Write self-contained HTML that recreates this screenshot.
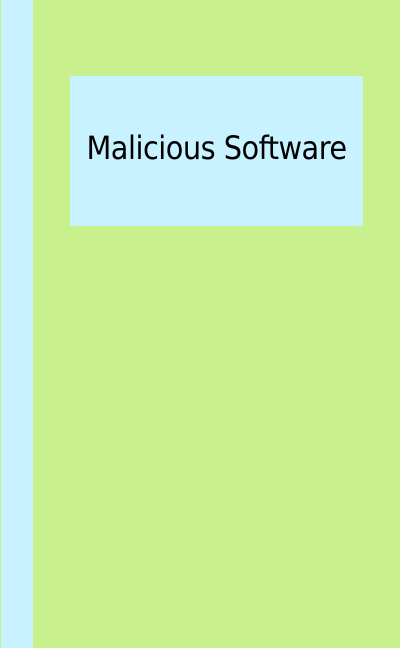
<!DOCTYPE html>
<html><head><style>
html,body{margin:0;padding:0;width:400px;height:648px;overflow:hidden;background:#c8f08c;}
.strip{position:absolute;left:1px;top:0;width:32px;height:648px;background:#c8f2ff;}
.box{position:absolute;left:70px;top:76px;width:293px;height:150px;background:#c8f2ff;}
.t{position:absolute;left:70px;top:126px;width:293px;text-align:center;font-family:"DejaVu Sans Condensed","Liberation Sans Narrow","Liberation Sans",sans-serif;font-size:32px;line-height:44px;color:#000;letter-spacing:-0.5px;}
</style></head><body>
<div class="strip"></div>
<div class="box"></div>
<div class="t">Malicious Software</div>
</body></html>
